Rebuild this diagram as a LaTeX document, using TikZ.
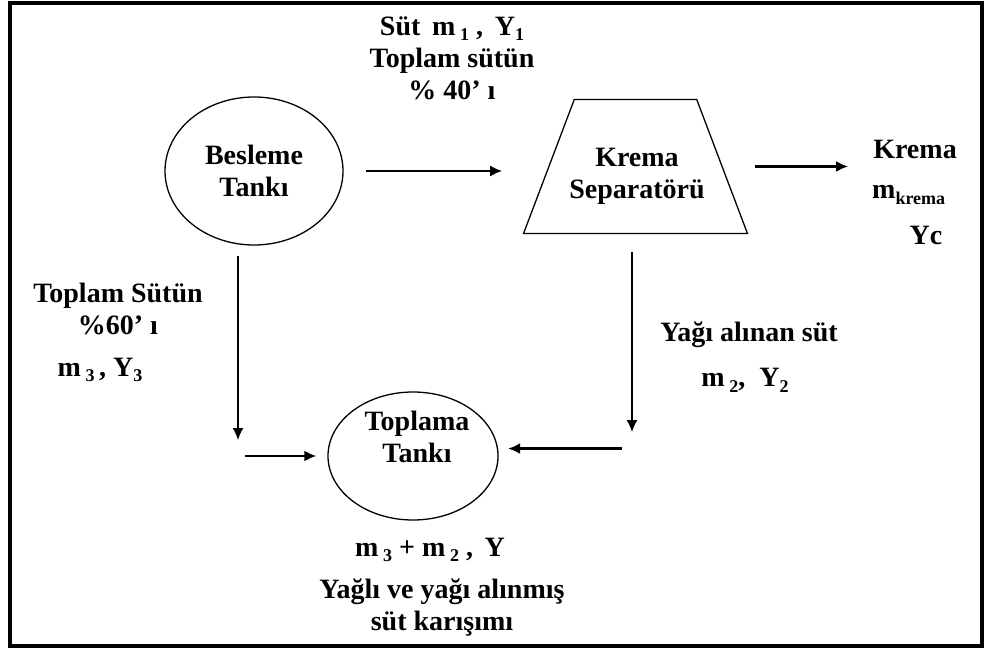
\documentclass[tikz,border=0pt]{standalone}
\usepackage{fontspec}
\setmainfont{Liberation Serif}
\usetikzlibrary{shapes.geometric,arrows.meta}
\newcommand{\sbs}[1]{\raisebox{-0.45ex}{\fontsize{18}{18}\selectfont #1}}

\begin{document}
\begin{tikzpicture}[x=1pt, y=-1pt,
        lbl/.style={font=\fontsize{28}{32}\selectfont\bfseries, align=center, inner sep=0pt},
        tank/.style={draw, ellipse, line width=1.3pt, inner sep=0pt},
        flow/.style={-{Latex[length=12pt,width=11pt]}, line width=2.2pt},
        drop/.style={-{Latex[length=12pt,width=11pt]}, line width=1.4pt}]
        \useasboundingbox (0,0) rectangle (985,650);

        % Outer frame
        \draw[line width=4pt] (10,3) rectangle (982,646);

        % Tanks and the separator
        \node[tank, lbl, minimum width=178pt, minimum height=148pt] (bes) at (254,171) {Besleme\\Tankı};
        \node[tank, minimum width=170pt, minimum height=128pt] (top) at (413,456) {};
        \node[lbl] (toptxt) at (417,437) {Toplama\\Tankı};
        \node[draw, trapezium, trapezium stretches=true, line width=1.3pt,
              trapezium left angle=67.5, trapezium right angle=67.5,
              minimum width=224pt, minimum height=134pt] (sep) at (635.5,166.5) {};
        \node[lbl] (septxt) at (637,176) {Krema\\Separatörü};

        % Stream labels
        \node[lbl] (feed) at (452,58) {Süt \,m\,\sbs{1} , \,Y\sbs{1}\\Toplam sütün\\\% 40' ı};
        \node[lbl] (kre) at (915,149) {Krema};
        \node[lbl, anchor=west] (krem) at (872,195) {m\sbs{krema}};
        \node[lbl] (krey) at (926,235) {Yc};
        \node[lbl] (bypass) at (118,309) {Toplam Sütün\\\%60' ı};
        \node[lbl] (bypassm) at (100,370) {m\,\sbs{3}\,, Y\sbs{3}};
        \node[lbl] (skim) at (749,335) {Yağı alınan süt};
        \node[lbl] (skimm) at (745,380) {m\,\sbs{2}, \ Y\sbs{2}};
        \node[lbl] (mixm) at (430,550) {m\,\sbs{3} + m\,\sbs{2} , \,Y};
        \node[lbl] (mixt) at (442,608) {Yağlı ve yağı alınmış\\süt karışımı};

        % Ends of the down streams
        \coordinate (mixL) at (238,440);
        \coordinate (mixR) at (632,432);

        % Streams
        \draw[flow, shorten <=22pt, shorten >=46pt] (bes.east) -- (bes.east -| sep.west);
        \draw[flow, shorten <=32pt, shorten >=25pt] (sep.east) -- (sep.east -| kre.west);
        \draw[drop, shorten <=10pt] (bes.south -| mixL) -- (mixL);
        \draw[drop, shorten <=18pt] (sep.south -| mixR) -- (mixR);
        \draw[flow, shorten <=7pt, shorten >=11pt] (mixL |- top.west) -- (top.west);
        \draw[flow, shorten <=10pt, shorten >=10pt] (mixR |- top.5) -- (top.5);
    \end{tikzpicture}
\end{document}
